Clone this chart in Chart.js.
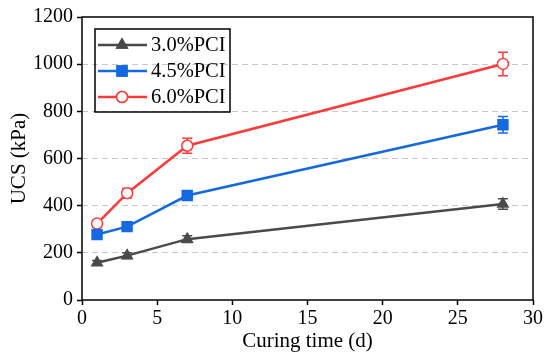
<!DOCTYPE html>
<html>
<head>
<meta charset="utf-8">
<script src="https://cdn.jsdelivr.net/npm/chart.js@4"></script>
<style>
  body { margin: 0; background: #fff; }
  #box { width: 550px; height: 362px; }
</style>
</head>
<body>
<div id="box"><canvas id="cvs_ucs"></canvas></div>
<script>
// dados
const dias = [1, 3, 7, 28];
const nomes = ["3.0%PCI", "4.5%PCI", "6.0%PCI"];
const ucs30 = [158, 188, 258, 407];
const ucs45 = [278, 311, 443, 743];
const ucs60 = [324, 453, 654, 1001];
const erro30 = [10, 12, 14, 22];
const erro45 = [14, 14, 16, 35];
const erro60 = [14, 20, 32, 50];

const cores = ["#4a4a4a", "#1469e0", "#ff3a3a"];
const estilos = ["triangle", "rect", "circle"];
const fundos = ["#4a4a4a", "#1469e0", "#ffffff"];
const raios = [6, 7, 5.5];
const erros = [erro30, erro45, erro60];
const fonte = "'Liberation Serif', 'Times New Roman', serif";

function pontos(vals) {
  return dias.map(function (d, i) { return { x: d, y: vals[i] }; });
}

// barras de erro (desenhadas antes dos marcadores)
const barrasErro = {
  id: "barrasErro",
  beforeDatasetsDraw(chart) {
    const ctx = chart.ctx;
    const sx = chart.scales.x, sy = chart.scales.y;
    chart.data.datasets.forEach(function (ds, k) {
      ctx.save();
      ctx.strokeStyle = cores[k];
      ctx.lineWidth = 1.5;
      ds.data.forEach(function (p, i) {
        const x = sx.getPixelForValue(p.x);
        const y1 = sy.getPixelForValue(p.y + erros[k][i]);
        const y2 = sy.getPixelForValue(p.y - erros[k][i]);
        ctx.beginPath();
        ctx.moveTo(x, y1); ctx.lineTo(x, y2);
        ctx.moveTo(x - 5, y1); ctx.lineTo(x + 5, y1);
        ctx.moveTo(x - 5, y2); ctx.lineTo(x + 5, y2);
        ctx.stroke();
      });
      ctx.restore();
    });
  },
};

// moldura + legenda dentro da área do gráfico
const moldura = {
  id: "moldura",
  afterDraw(chart) {
    const ctx = chart.ctx;
    const a = chart.chartArea;
    ctx.save();
    ctx.strokeStyle = "#000";
    ctx.lineWidth = 1.5;
    ctx.strokeRect(a.left, a.top, a.right - a.left, a.bottom - a.top);

    const lx = a.left + 13, ly = a.top + 12;
    ctx.lineWidth = 1.5;
    ctx.strokeRect(lx, ly, 135, 83);
    ctx.font = "20.5px " + fonte;
    ctx.textBaseline = "middle";
    nomes.forEach(function (n, k) {
      const yy = ly + 16 + k * 26;
      ctx.strokeStyle = cores[k];
      ctx.lineWidth = 2.5;
      ctx.beginPath();
      ctx.moveTo(lx + 3, yy); ctx.lineTo(lx + 52, yy);
      ctx.stroke();
      ctx.lineWidth = 1.5;
      Chart.helpers.drawPoint(ctx, {
        pointStyle: estilos[k], radius: raios[k], rotation: 0, borderWidth: 1.5,
      }, lx + 27, yy);
      ctx.fillStyle = fundos[k];
      ctx.fill();
      ctx.stroke();
      ctx.fillStyle = "#000";
      ctx.fillText(n, lx + 56, yy + 1);
    });
    ctx.restore();
  },
};

const series = [ucs30, ucs45, ucs60];

new Chart(document.getElementById("cvs_ucs"), {
  type: "scatter",
  data: {
    datasets: series.map(function (s, k) {
      return {
        label: nomes[k],
        data: pontos(s),
        showLine: true,
        borderColor: cores[k],
        backgroundColor: fundos[k],
        borderWidth: 2.5,
        pointStyle: estilos[k],
        pointRadius: raios[k],
        pointBorderWidth: 1.5,
        pointBorderColor: cores[k],
        pointBackgroundColor: fundos[k],
      };
    }),
  },
  options: {
    responsive: true,
    maintainAspectRatio: false,
    animation: false,
    layout: { padding: { top: 17, right: 17, left: 5, bottom: 8 } },
    plugins: {
      legend: { display: false },
      tooltip: { enabled: false },
    },
    scales: {
      x: {
        type: "linear",
        min: 0,
        max: 30,
        afterFit(scale) { scale.height = 54; },
        ticks: { stepSize: 5, color: "#000", padding: 2, font: { family: fonte, size: 20 } },
        grid: { drawOnChartArea: false, tickColor: "#000", tickLength: 5, tickWidth: 1.5 },
        border: { display: false },
        title: { display: true, text: "Curing time (d)", color: "#000", padding: 0, font: { family: fonte, size: 21 } },
      },
      y: {
        min: 0,
        max: 1200,
        afterFit(scale) { scale.width = 77; },
        ticks: {
          stepSize: 200, color: "#000", padding: 4, font: { family: fonte, size: 20 },
          callback: function (v) { return String(v); },
        },
        grid: {
          color: function (c) {
            return (c.tick && (c.tick.value === 0 || c.tick.value === 1200)) ? "rgba(0,0,0,0)" : "#c8c8c8";
          },
          lineWidth: 1,
          tickColor: "#000",
          tickLength: 5,
          tickWidth: 1.5,
        },
        border: { display: false, dash: [6, 4] },
        title: { display: true, text: "UCS (kPa)", color: "#000", padding: 2, font: { family: fonte, size: 21 } },
      },
    },
  },
  plugins: [barrasErro, moldura],
});
</script>
</body>
</html>
